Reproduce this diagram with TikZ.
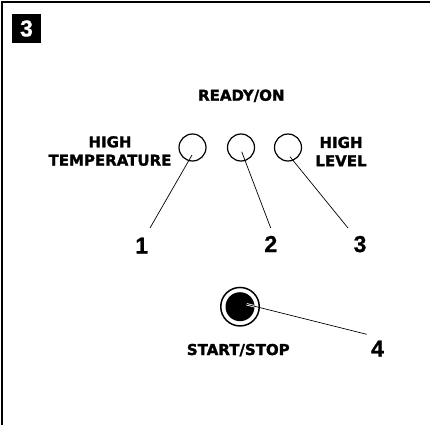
\documentclass[tikz,border=0pt]{standalone}
\usepackage{fontspec}
\setmainfont{DejaVu Sans}
\newfontfamily\heavyfont{DejaVu Sans}[UprightFont=* Bold, FakeBold=1.6]
\newfontfamily\numfont{Liberation Sans}[UprightFont=* Bold, FakeBold=0.8]
\begin{document}
\begin{tikzpicture}[x=1pt,y=-1pt,
  lbl/.style={font=\heavyfont\fontsize{15}{18.3}\selectfont, inner sep=0pt, align=center},
  num/.style={font=\numfont\fontsize{23}{23}\selectfont, inner sep=0pt, anchor=base},
  led/.style={circle, draw, line width=1.2pt, minimum size=27pt, inner sep=0pt},
  leader/.style={line width=0.7pt}]
\useasboundingbox (0,0) rectangle (430,425);
% frame
\draw[line width=2.4pt] (2.2,425) -- (2.2,2.2) -- (430,2.2);
% badge
\node[fill=black, minimum size=29pt, inner sep=0pt, text=white,
      font=\numfont\fontsize{23}{23}\selectfont] (badge) at (26.5,28.5) {3};
% labels
\node[lbl, anchor=base] (ready) at (241.3,100.7) {READY/ON};
\node[lbl] (hightemp) at (110,151) {HIGH\\TEMPERATURE};
\node[lbl] (highlevel) at (341,151.5) {HIGH\\LEVEL};
\node[lbl, anchor=base] (startstop) at (238.3,355) {START/STOP};
% LEDs
\node[led] (led1) at (192.5,147.5) {};
\node[led] (led2) at (241,147.5) {};
\node[led] (led3) at (288,147.5) {};
% start button
\node[circle, draw, line width=1.5pt, minimum size=38.5pt, inner sep=0pt] (btn) at (240,306.7) {};
\node[circle, fill=black, minimum size=29pt, inner sep=0pt] (btnin) at (btn.center) {};
% numbers
\node[num] (n1) at (141.7,253.5) {1};
\node[num] (n2) at (270.8,252) {2};
\node[num] (n3) at (360,252) {3};
\node[num] (n4) at (377.5,356.5) {4};
% leader points
\coordinate (p1) at (192,155);
\coordinate (e1) at (150,228);
\coordinate (p2) at (241.7,151.7);
\coordinate (e2) at (270.7,228);
\coordinate (p3) at (290,156.7);
\coordinate (e3) at (348,228);
\coordinate (p4) at (246.7,304.3);
\coordinate (e4) at (366.7,334.3);
\draw[leader] (p1) -- (e1);
\draw[leader] (p2) -- (e2);
\draw[leader] (p3) -- (e3);
\begin{scope}
  \clip (btnin.center) circle (14.5);
  \draw[white, line width=2.4pt] (p4) -- (e4);
\end{scope}
\draw[leader] (p4) -- (e4);
\end{tikzpicture}
\end{document}
